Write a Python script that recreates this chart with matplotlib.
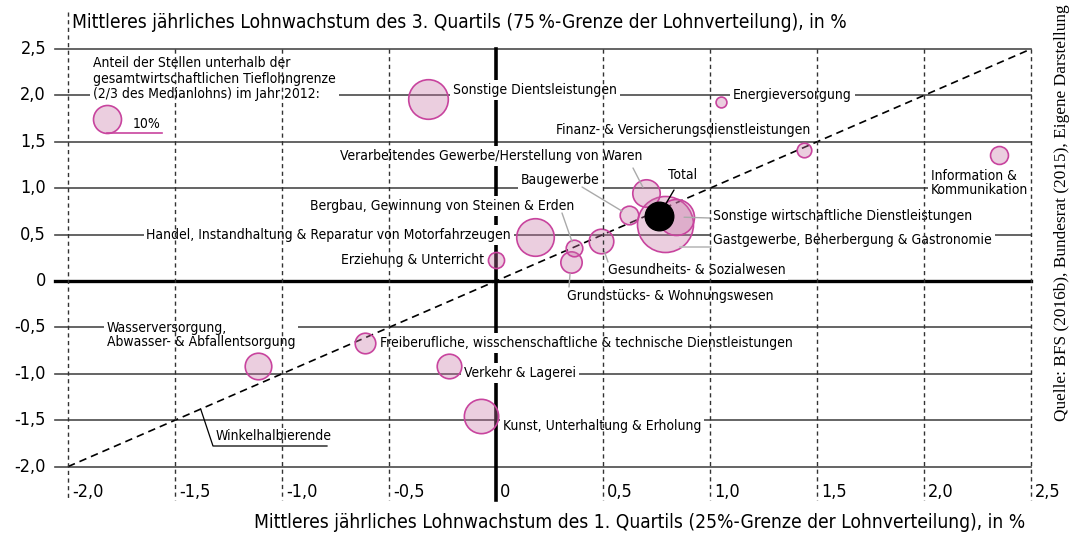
import numpy as np
import matplotlib
matplotlib.use("Agg")
import matplotlib.pyplot as plt

plt.rcParams['font.family'] = ['Liberation Sans Narrow', 'DejaVu Sans']
plt.rcParams['font.stretch'] = 'condensed'

# data
sectors = [
    "Sonstige Dientsleistungen",
    "Energieversorgung",
    "Finanz- & Versicherungsdienstleistungen",
    "Information &\nKommunikation",
    "Verarbeitendes Gewerbe/Herstellung von Waren",
    "Baugewerbe",
    "Total",
    "Sonstige wirtschaftliche Dienstleistungen",
    "Gastgewerbe, Beherbergung & Gastronomie",
    "Bergbau, Gewinnung von Steinen & Erden",
    "Handel, Instandhaltung & Reparatur von Motorfahrzeugen",
    "Gesundheits- & Sozialwesen",
    "Grundstücks- & Wohnungswesen",
    "Erziehung & Unterricht",
    "Wasserversorgung,\nAbwasser- & Abfallentsorgung",
    "Freiberufliche, wisschenschaftliche & technische Dienstleistungen",
    "Verkehr & Lagerei",
    "Kunst, Unterhaltung & Erholung",
]
growth_q1 = [-0.32, 1.05, 1.44, 2.35, 0.70, 0.62, 0.76, 0.84, 0.79, 0.365,
             0.18, 0.49, 0.35, 0.0, -1.11, -0.61, -0.22, -0.07]
growth_q3 = [1.96, 1.93, 1.41, 1.36, 0.95, 0.71, 0.70, 0.69, 0.61, 0.36,
             0.47, 0.43, 0.20, 0.23, -0.92, -0.67, -0.92, -1.46]
low_wage_share = [20, 1.5, 2.7, 4.1, 9.6, 4.4, 10.4, 16.5, 40, 3.5,
                  18, 7.7, 5.8, 3.3, 9.0, 5.4, 7.7, 15]
legend_share = 10

x_ticks = [-2.0, -1.5, -1.0, -0.5, 0.0, 0.5, 1.0, 1.5, 2.0, 2.5]
y_ticks = [2.5, 2.0, 1.5, 1.0, 0.5, 0.0, -0.5, -1.0, -1.5, -2.0]

W, H, DPI = 1076, 536, 100
X0, XS, Y0, YS = 496, 214, 281, 92.8


def P(px, py):
    # pixel position -> data position
    return (px - X0) / XS, (Y0 - py) / YS


def fmt(v):
    return "0" if v == 0 else f"{v:.1f}".replace(".", ",")


def bubble_s(share):
    r = 14 * np.sqrt(share / 10)
    return (2 * r * 72 / DPI) ** 2


fig = plt.figure(figsize=(W / DPI, H / DPI), dpi=DPI)
ax = fig.add_axes([0, 0, 1, 1])
ax.set_xlim(P(0, 0)[0], P(W, 0)[0])
ax.set_ylim(P(0, H)[1], P(0, 0)[1])
ax.axis("off")

xl = P(55, 0)[0]
ybot = P(0, 500)[1]

# horizontal grid
for v in y_ticks:
    if v == 0:
        ax.plot([xl, 2.5], [0, 0], color="black", lw=2.4, zorder=1)
    else:
        ax.plot([xl, 2.5], [v, v], color="#4a4a4a", lw=1.2, zorder=1)
    ax.text(P(46, 0)[0], v, fmt(v), ha="right", va="center", fontsize=13)

# vertical grid
for v in x_ticks:
    if v == 0:
        ax.plot([0, 0], [2.5, ybot], color="black", lw=2.6, zorder=1)
    else:
        top = P(0, 12)[1] if v == -2.0 else 2.5
        ax.plot([v, v], [top, ybot], color="#333333", lw=1, ls=(0, (3, 2.5)), zorder=6)
    ax.text(v + 4 / XS, P(0, 492)[1], fmt(v), ha="left", va="center", fontsize=13)

# angle bisector
ax.plot([-2, 2.5], [-2, 2.5], color="black", lw=1.2, ls=(0, (4.5, 3)), zorder=2)
bx, by = P(213, 446)
ax.plot([-1.38, bx, P(327, 0)[0]], [-1.38, by, by], color="black", lw=0.9, zorder=2)
ax.text(bx + 0.01, P(0, 436)[1], "Winkelhalbierende", ha="left", va="center", fontsize=10)

# bubbles
order = np.argsort(low_wage_share)[::-1]
for i in order:
    if sectors[i] == "Total":
        continue
    ax.scatter(growth_q1[i], growth_q3[i], s=bubble_s(low_wage_share[i]),
               facecolor=(0.78, 0.45, 0.65, 0.35), edgecolor="#c8449e",
               linewidth=1.2, zorder=4)
t = sectors.index("Total")
ax.scatter(growth_q1[t], growth_q3[t], s=bubble_s(low_wage_share[t]),
           color="black", zorder=5)

# labels: (pixel x, pixel y, ha)
label_pos = {
    "Sonstige Dientsleistungen": (453, 90, "left"),
    "Energieversorgung": (733, 95, "left"),
    "Finanz- & Versicherungsdienstleistungen": (810, 130, "right"),
    "Information &\nKommunikation": (931, 183, "left"),
    "Verarbeitendes Gewerbe/Herstellung von Waren": (642, 156, "right"),
    "Baugewerbe": (600, 180, "right"),
    "Total": (668, 175, "left"),
    "Sonstige wirtschaftliche Dienstleistungen": (713, 216, "left"),
    "Gastgewerbe, Beherbergung & Gastronomie": (713, 240, "left"),
    "Bergbau, Gewinnung von Steinen & Erden": (574, 206, "right"),
    "Handel, Instandhaltung & Reparatur von Motorfahrzeugen": (511, 235, "right"),
    "Gesundheits- & Sozialwesen": (608, 270, "left"),
    "Grundstücks- & Wohnungswesen": (567, 296, "left"),
    "Erziehung & Unterricht": (484, 260, "right"),
    "Wasserversorgung,\nAbwasser- & Abfallentsorgung": (107, 335, "left"),
    "Freiberufliche, wisschenschaftliche & technische Dienstleistungen": (380, 343, "left"),
    "Verkehr & Lagerei": (464, 373, "left"),
    "Kunst, Unterhaltung & Erholung": (503, 426, "left"),
}
box = dict(facecolor="white", edgecolor="none", pad=2)
for name, (px, py, ha) in label_pos.items():
    x, y = P(px, py)
    ax.text(x, y, name, ha=ha, va="center", fontsize=10, linespacing=1.0,
            bbox=box, zorder=3)

# leader lines: (label-side pixel point, sector, shrink in points, colour)
leaders = [
    ((633, 168), "Verarbeitendes Gewerbe/Herstellung von Waren", 4.5, "#aaaaaa"),
    ((582, 187), "Baugewerbe", 5.5, "#aaaaaa"),
    ((674, 190), "Total", 6, "black"),
    ((562, 213), "Bergbau, Gewinnung von Steinen & Erden", 4.5, "#aaaaaa"),
    ((710, 218), "Sonstige wirtschaftliche Dienstleistungen", 6, "#aaaaaa"),
    ((608, 262), "Gesundheits- & Sozialwesen", 8, "#aaaaaa"),
    ((569, 287), "Grundstücks- & Wohnungswesen", 8, "#aaaaaa"),
]
for (px, py), name, shr, col in leaders:
    i = sectors.index(name)
    ax.annotate("", xy=(growth_q1[i], growth_q3[i]), xytext=P(px, py),
                arrowprops=dict(arrowstyle="-", color=col, lw=1,
                                shrinkA=0, shrinkB=shr),
                zorder=6 if col == "black" else 4.5)
g0, g1 = P(680, 247), P(711, 247)
ax.plot([g0[0], g1[0]], [g0[1], g1[1]], color="#bbbbbb", lw=1.2, zorder=4.5)

# size legend
lx, ly = P(107, 119)
ax.scatter(lx, ly, s=bubble_s(legend_share), facecolor=(0.78, 0.45, 0.65, 0.35),
           edgecolor="#c8449e", linewidth=1.2, zorder=4)
ax.plot([lx, P(162, 0)[0]], [P(0, 133)[1]] * 2, color="#c8449e", lw=1.2, zorder=4)
ax.text(P(160, 0)[0], P(0, 124)[1], f"{legend_share}%", ha="right", va="center", fontsize=10)
ax.text(P(93, 0)[0], P(0, 56)[1],
        "Anteil der Stellen unterhalb der\ngesamtwirtschaftlichen Tieflohngrenze\n"
        "(2/3 des Medianlohns) im Jahr 2012:",
        ha="left", va="top", fontsize=10, linespacing=1.15, bbox=box, zorder=3)

# titles
ax.text(P(72, 0)[0], P(0, 22)[1],
        "Mittleres jährliches Lohnwachstum des 3. Quartils (75\u2009%-Grenze der Lohnverteilung), in %",
        ha="left", va="center", fontsize=13.8)
ax.text(P(1025, 0)[0], P(0, 523)[1],
        "Mittleres jährliches Lohnwachstum des 1. Quartils (25%-Grenze der Lohnverteilung), in %",
        ha="right", va="center", fontsize=13.8)
ax.text(P(1062, 0)[0], P(0, 421)[1],
        "Quelle: BFS (2016b), Bundesrat (2015), Eigene Darstellung",
        rotation=90, ha="center", va="bottom", fontsize=12.4,
        family=["Liberation Serif", "DejaVu Serif"])

fig.savefig("out.png", dpi=DPI)
